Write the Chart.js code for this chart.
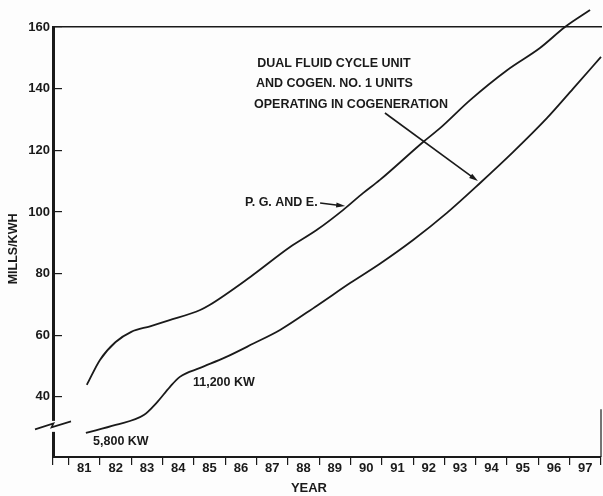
<!DOCTYPE html>
<html>
<head>
<meta charset="utf-8">
<script src="https://cdn.jsdelivr.net/npm/chart.js@4"></script>
<style>
  html, body { margin: 0; padding: 0; background: #fdfdfd; }
  #wrap { width: 603px; height: 496px; }
</style>
</head>
<body>
<div id="wrap"><canvas id="c" width="603" height="496"></canvas></div>
<script>
// ---- data ----
const yearLabels = ['81','82','83','84','85','86','87','88','89','90','91','92','93','94','95','96','97'];
const yearBoundaries = [80, 80.5, 81.5, 82.5, 83.5, 84.5, 85.5, 86.5, 87.5, 88.5, 89.5, 90.5, 91.5, 92.5, 93.5, 94.5, 95.5, 96.5, 97.5];
const yTickValues = [40, 60, 80, 100, 120, 140, 160];

const pgeYears  = [81.08, 81.5, 82.0, 82.5, 83.1, 83.7, 84.7, 85.0, 86.3, 87.57, 88.43, 89.26, 89.9, 90.44, 91.82, 92.36, 93.32, 94.5, 95.55, 96.35, 97.15];
const pgeValues = [43.9, 52.0, 57.8, 61.1, 62.9, 64.8, 68.2, 69.8, 78.9, 88.6, 94.2, 100.6, 106.1, 110.4, 122.7, 127.2, 136.3, 146.0, 153.2, 160.0, 165.5];

const cogenYears  = [81.05, 82.0, 82.9, 83.3, 83.73, 84.05, 84.7, 85.5, 86.4, 87.25, 88.43, 89.5, 90.44, 91.5, 92.58, 93.64, 94.69, 95.78, 96.61, 97.5];
const cogenValues = [28.3, 30.9, 34.1, 38.0, 43.2, 46.5, 49.4, 52.8, 57.3, 61.7, 69.6, 77.0, 83.2, 90.9, 99.7, 109.4, 119.4, 130.5, 140.0, 150.3];

// annotation texts (placed in data coordinates)
const noteTexts = ['DUAL FLUID CYCLE UNIT', 'AND COGEN. NO. 1 UNITS', 'OPERATING IN COGENERATION', 'P. G. AND E.', '11,200 KW', '5,800 KW'];
const noteYears = [86.52, 86.48, 86.42, 86.13, 84.47, 81.28];
const noteVals  = [148.0, 141.5, 135.0, 102.9, 44.5, 25.4];
const arrows = [
  { from: [90.60, 132.1], to: [93.57, 110.0] },
  { from: [88.53, 102.9], to: [89.33, 101.9] }
];
const breakValue = 30.6;

const INK = '#1a1a1a';
const FONT = 'Liberation Sans, Arial, sans-serif';

const toPts = (xs, ys) => xs.map((x, i) => ({ x: x, y: ys[i] }));

const notesPlugin = {
  id: 'notes',
  afterDatasetsDraw(chart) {
    const { ctx } = chart;
    const xs = chart.scales.x, ys = chart.scales.y;
    ctx.save();
    ctx.fillStyle = INK;
    ctx.strokeStyle = INK;
    ctx.font = 'bold 12.5px ' + FONT;
    ctx.textAlign = 'left';
    ctx.textBaseline = 'middle';
    noteTexts.forEach((t, i) => {
      ctx.fillText(t, xs.getPixelForValue(noteYears[i]), ys.getPixelForValue(noteVals[i]));
    });
    // arrows
    ctx.lineWidth = 1.6;
    arrows.forEach(a => {
      const x1 = xs.getPixelForValue(a.from[0]), y1 = ys.getPixelForValue(a.from[1]);
      const x2 = xs.getPixelForValue(a.to[0]), y2 = ys.getPixelForValue(a.to[1]);
      const ang = Math.atan2(y2 - y1, x2 - x1);
      const L = 9, W = 2.6;
      ctx.beginPath();
      ctx.moveTo(x1, y1);
      ctx.lineTo(x2 - Math.cos(ang) * L * 0.8, y2 - Math.sin(ang) * L * 0.8);
      ctx.stroke();
      ctx.beginPath();
      ctx.moveTo(x2, y2);
      ctx.lineTo(x2 - Math.cos(ang) * L - Math.sin(ang) * W, y2 - Math.sin(ang) * L + Math.cos(ang) * W);
      ctx.lineTo(x2 - Math.cos(ang) * L + Math.sin(ang) * W, y2 - Math.sin(ang) * L - Math.cos(ang) * W);
      ctx.closePath();
      ctx.fill();
    });
    // axis break symbol
    const ax = chart.chartArea.left - 1;
    const by = ys.getPixelForValue(breakValue);
    ctx.fillStyle = '#fdfdfd';
    ctx.fillRect(ax - 3, by - 5, 6, 11);
    ctx.lineWidth = 1.6;
    ctx.beginPath();
    ctx.moveTo(ax - 17, by + 3.5);
    ctx.lineTo(ax + 1.5, by - 2.5);
    ctx.lineTo(ax - 0.5, by + 1.5);
    ctx.lineTo(ax + 19, by - 4.5);
    ctx.stroke();
    // partial right border near the baseline
    const rx = chart.chartArea.right;
    ctx.lineWidth = 1.2;
    ctx.beginPath();
    ctx.moveTo(rx, ys.getPixelForValue(36));
    ctx.lineTo(rx, chart.chartArea.bottom);
    ctx.stroke();
    ctx.restore();
  }
};

new Chart(document.getElementById('c'), {
  type: 'line',
  data: {
    datasets: [
      { label: 'P. G. AND E.', data: toPts(pgeYears, pgeValues) },
      { label: 'Cogeneration', data: toPts(cogenYears, cogenValues) }
    ]
  },
  options: {
    responsive: false,
    devicePixelRatio: 1,
    animation: false,
    layout: { padding: { top: 27, left: 0, right: 2, bottom: 0 } },
    elements: {
      point: { radius: 0 },
      line: { borderColor: INK, borderWidth: 1.8, cubicInterpolationMode: 'monotone', fill: false }
    },
    datasets: { line: { clip: false } },
    plugins: { legend: { display: false }, tooltip: { enabled: false } },
    scales: {
      x: {
        type: 'linear', position: 'bottom', min: 80, max: 97.5,
        afterFit: s => { s.height = 39; },
        afterBuildTicks: s => {
          const vals = yearBoundaries.concat(yearLabels.map(Number)).sort((a, b) => a - b);
          s.ticks = vals.map(v => ({ value: v }));
        },
        border: { display: true, width: 2, color: INK },
        grid: {
          drawOnChartArea: false, drawTicks: true, tickLength: 8, lineWidth: 1.2,
          color: c => (c.tick && yearBoundaries.includes(c.tick.value)) ? INK : 'rgba(0,0,0,0)'
        },
        ticks: {
          autoSkip: false, maxRotation: 0, padding: -4, color: INK,
          font: { family: FONT, size: 13, weight: 'bold' },
          callback: v => yearLabels.includes(String(v)) ? String(v) : ''
        },
        title: {
          display: true, text: 'YEAR' + '          ', color: INK,
          font: { family: FONT, size: 13, weight: 'bold' },
          padding: { top: 0, bottom: 0 }
        }
      },
      xTop: {
        type: 'linear', position: 'top', min: 80, max: 97.5,
        afterFit: s => { s.height = 0; },
        border: { display: true, width: 1.5, color: INK },
        grid: { display: false },
        ticks: { display: false }
      },
      y: {
        type: 'linear', position: 'left', min: 20.5, max: 160,
        afterFit: s => { s.width = 53; },
        afterBuildTicks: s => { s.ticks = yTickValues.map(v => ({ value: v })); },
        border: { display: true, width: 3, color: INK },
        grid: { drawOnChartArea: false, drawTicks: true, tickLength: -9, lineWidth: 1.2, color: INK },
        ticks: {
          padding: 12, color: INK,
          font: { family: FONT, size: 13, weight: 'bold' }
        },
        title: {
          display: true, text: 'MILLS/KWH' + '    ', color: INK,
          font: { family: FONT, size: 12.5, weight: 'bold' },
          padding: { top: 6.5, bottom: 0 }
        }
      }
    }
  },
  plugins: [notesPlugin]
});
</script>
</body>
</html>
